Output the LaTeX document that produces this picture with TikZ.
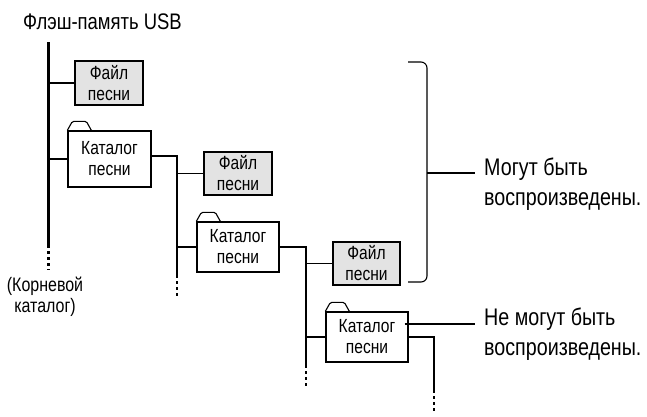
\documentclass[tikz,border=0pt]{standalone}
\usepackage{fontspec}
\setmainfont{Liberation Sans}
\newfontfamily\condfont{Liberation Sans}[FakeStretch=0.82]
\usetikzlibrary{positioning,calc}

\begin{document}
\begin{tikzpicture}[x=1pt,y=-1pt,
	conn/.style={line width=1.1pt},
	dots/.style={line width=1.1pt,dash pattern=on 3pt off 3pt},
	filebox/.style={draw,line width=1.3pt,fill=gray!22,minimum width=68pt,minimum height=43pt,inner sep=0pt,align=center,font=\condfont\fontsize{19}{21}\selectfont},
	folderbox/.style={draw,line width=1.3pt,fill=white,minimum width=82pt,minimum height=50pt,inner sep=0pt,align=center,font=\condfont\fontsize{19}{21}\selectfont},
	tab/.style={line width=1.1pt,rounded corners=1.5pt},
	note/.style={align=left,inner sep=0pt,font=\condfont\fontsize{24}{30}\selectfont}]
				\useasboundingbox (0,0) rectangle (647,416);
				
				\node[anchor=west,inner sep=0pt,font=\condfont\fontsize{22.5}{24}\selectfont] (title) at (23,22) {Флэш-память USB};
				
				% root
				\coordinate (r0) at (48,42);
				\coordinate (r1) at (48,245);
				\coordinate (r2) at (48,270);
				\draw[line width=3pt] (r0)--(r1);
				\draw[line width=3pt,dash pattern=on 3pt off 3pt] (r1)--(r2);
				\node[align=center,inner sep=0pt,font=\condfont\fontsize{19.5}{21}\selectfont] (rootlbl) at (45,297) {(Корневой\\каталог)};
				
				% boxes
				\node[filebox,minimum height=44pt] (f1) at (109,83) {Файл\\песни};
				\node[folderbox,minimum width=83pt,minimum height=56pt] (k1) at (109.5,159) {Каталог\\песни};
				\node[filebox] (f2) at (238,173.5) {Файл\\песни};
				\node[folderbox] (k2) at (238,247) {Каталог\\песни};
				\node[filebox,minimum width=67pt] (f3) at (366.5,263.5) {Файл\\песни};
				\node[folderbox] (k3) at (367,337) {Каталог\\песни};
				
				\foreach \k in {k1,k2,k3}{
					\draw[tab] (\k.north west) -- ++(5,-9) -- ++(14,0) -- ++(5,9);
				}
				
				\draw[conn] (r0 |- f1.west) -- (f1.west);
				\draw[conn] (r0 |- k1.west) -- (k1.west);
				
				% branch 1
				\coordinate (b1) at (177,275);
				\coordinate (b1e) at (177,298);
				\draw[conn] ([yshift=3pt]k1.east) -- ([yshift=3pt]b1 |- k1.east) -- (b1);
				\draw[dots] (b1)--(b1e);
				\draw[conn] (b1 |- f2.west) -- (f2.west);
				\draw[conn] (b1 |- k2.west) -- (k2.west);
				
				% branch 2
				\coordinate (b2) at (306,365);
				\coordinate (b2e) at (306,388);
				\draw[conn] (k2.east) -- (b2 |- k2.east) -- (b2);
				\draw[dots] (b2)--(b2e);
				\draw[conn] (b2 |- f3.west) -- (f3.west);
				\draw[conn] (b2 |- k3.west) -- (k3.west);
				
				% branch 3
				\coordinate (b3) at (434,390);
				\coordinate (b3e) at (434,411);
				\draw[conn] (k3.east) -- (b3 |- k3.east) -- (b3);
				\draw[dots] (b3)--(b3e);
				
				% brace
				\coordinate (bt) at (408,62);
				\coordinate (bb) at (408,282);
				\coordinate (bm) at (427,173);
				\draw[conn,rounded corners=6pt] (bt) -- (bm |- bt) -- (bm |- bb) -- (bb);
				\node[note,anchor=north west] (ok) at (484,158) {Могут быть\\воспроизведены.};
				\draw[conn] (bm) -- ([xshift=-9pt]ok.west |- bm);
				
				\node[note,anchor=north west] (no) at (484,308) {Не могут быть\\воспроизведены.};
				\draw[conn] ([xshift=-4pt,yshift=13pt]k3.east) -- ([xshift=-9pt]no.west |- 0,324);
\end{tikzpicture}
\end{document}
